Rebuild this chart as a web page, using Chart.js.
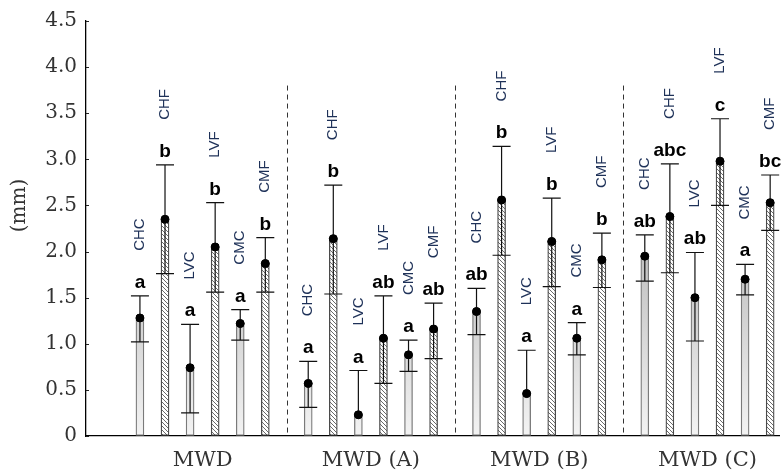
<!DOCTYPE html>
<html>
<head>
<meta charset="utf-8">
<script src="https://cdn.jsdelivr.net/npm/chart.js@4"></script>
<style>
  html, body { margin: 0; padding: 0; background: #fff; overflow: hidden; }
</style>
</head>
<body>
<canvas id="myChart" width="784" height="470"></canvas>
<script>
var groups = ["MWD", "MWD (A)", "MWD (B)", "MWD (C)"];
var yTicks = [0, 0.5, 1, 1.5, 2, 2.5, 3, 3.5, 4, 4.5];

var chcMean = [1.28, 0.57, 1.35, 1.95];
var chcLow = [1.02, 0.31, 1.10, 1.68];
var chcHigh = [1.52, 0.81, 1.60, 2.18];
var chcLetters = ["a", "a", "ab", "ab"];

var chfMean = [2.35, 2.14, 2.56, 2.38];
var chfLow = [1.76, 1.54, 1.96, 1.77];
var chfHigh = [2.94, 2.72, 3.14, 2.95];
var chfLetters = ["b", "b", "b", "abc"];

var lvcMean = [0.74, 0.23, 0.46, 1.50];
var lvcLow = [0.25, null, null, 1.03];
var lvcHigh = [1.21, 0.71, 0.93, 1.99];
var lvcLetters = ["a", "a", "a", "ab"];

var lvfMean = [2.05, 1.06, 2.11, 2.98];
var lvfLow = [1.56, 0.57, 1.62, 2.50];
var lvfHigh = [2.53, 1.52, 2.58, 3.44];
var lvfLetters = ["b", "ab", "b", "c"];

var cmcMean = [1.22, 0.88, 1.06, 1.70];
var cmcLow = [1.04, 0.70, 0.88, 1.53];
var cmcHigh = [1.37, 1.04, 1.23, 1.86];
var cmcLetters = ["a", "a", "a", "a"];

var cmfMean = [1.87, 1.16, 1.91, 2.53];
var cmfLow = [1.56, 0.84, 1.61, 2.23];
var cmfHigh = [2.15, 1.44, 2.20, 2.83];
var cmfLetters = ["b", "ab", "b", "bc"];

var series = [
  { name: "CHC", mean: chcMean, low: chcLow, high: chcHigh, letters: chcLetters, hatched: false },
  { name: "CHF", mean: chfMean, low: chfLow, high: chfHigh, letters: chfLetters, hatched: true },
  { name: "LVC", mean: lvcMean, low: lvcLow, high: lvcHigh, letters: lvcLetters, hatched: false },
  { name: "LVF", mean: lvfMean, low: lvfLow, high: lvfHigh, letters: lvfLetters, hatched: true },
  { name: "CMC", mean: cmcMean, low: cmcLow, high: cmcHigh, letters: cmcLetters, hatched: false },
  { name: "CMF", mean: cmfMean, low: cmfLow, high: cmfHigh, letters: cmfLetters, hatched: true }
];

var barStep = 0.149;
function xOf(i, j) {
  return i + (j - 2.5) * barStep;
}

// hatch pattern for the F bars
var pc = document.createElement("canvas");
pc.width = 4;
pc.height = 4;
var pctx = pc.getContext("2d");
pctx.fillStyle = "#fff";
pctx.fillRect(0, 0, 4, 4);
pctx.strokeStyle = "#5a5a5a";
pctx.lineWidth = 0.9;
pctx.beginPath();
pctx.moveTo(-1, -1); pctx.lineTo(5, 5);
pctx.moveTo(-1, 3); pctx.lineTo(1, 5);
pctx.moveTo(3, -1); pctx.lineTo(5, 1);
pctx.stroke();
var ctx = document.getElementById("myChart").getContext("2d");
var hatch = ctx.createPattern(pc, "repeat");

function grayFill(c) {
  var a = c.chart.chartArea;
  if (!a) return "#ddd";
  var g = c.chart.ctx.createLinearGradient(0, a.top, 0, a.bottom);
  g.addColorStop(0, "#808080");
  g.addColorStop(1, "#f3f3f3");
  return g;
}

var datasets = [];
series.forEach(function (s, j) {
  datasets.push({
    type: "bar",
    label: s.name,
    data: s.mean.map(function (v, i) { return { x: xOf(i, j), y: v }; }),
    backgroundColor: s.hatched ? hatch : grayFill,
    borderColor: s.hatched ? "#4a4a4a" : "#7a7a7a",
    borderWidth: 1.3,
    borderSkipped: false,
    barThickness: 8,
    grouped: false,
    order: 2
  });
});
series.forEach(function (s, j) {
  datasets.push({
    type: "line",
    label: s.name + " mean",
    data: s.mean.map(function (v, i) { return { x: xOf(i, j), y: v }; }),
    showLine: false,
    pointRadius: 4,
    pointBackgroundColor: "#000",
    pointBorderColor: "#000",
    order: 0
  });
});

var extras = {
  id: "extras",
  beforeDatasetsDraw: function (chart) {
    var c = chart.ctx, xs = chart.scales.x, ys = chart.scales.y;
    c.save();
    c.strokeStyle = "#333";
    c.lineWidth = 1;
    c.setLineDash([5, 4]);
    [0.5, 1.5, 2.5].forEach(function (v) {
      var px = Math.round(xs.getPixelForValue(v)) + 0.5;
      c.beginPath();
      c.moveTo(px, ys.getPixelForValue(3.8));
      c.lineTo(px, ys.getPixelForValue(0));
      c.stroke();
    });
    c.restore();
  },
  afterDatasetsDraw: function (chart) {
    var c = chart.ctx, xs = chart.scales.x, ys = chart.scales.y;
    c.save();
    // error bars
    c.strokeStyle = "#111";
    c.lineWidth = 1.2;
    series.forEach(function (s, j) {
      s.mean.forEach(function (m, i) {
        var px = xs.getPixelForValue(xOf(i, j));
        var top = ys.getPixelForValue(s.high[i]);
        var bot = ys.getPixelForValue(s.low[i] == null ? m : s.low[i]);
        c.beginPath();
        c.moveTo(px, top); c.lineTo(px, bot);
        c.moveTo(px - 9, top); c.lineTo(px + 9, top);
        if (s.low[i] != null) { c.moveTo(px - 9, bot); c.lineTo(px + 9, bot); }
        c.stroke();
      });
    });
    // dots again on top
    c.fillStyle = "#000";
    series.forEach(function (s, j) {
      s.mean.forEach(function (m, i) {
        c.beginPath();
        c.arc(xs.getPixelForValue(xOf(i, j)), ys.getPixelForValue(m), 4, 0, Math.PI * 2);
        c.fill();
      });
    });
    // significance letters and rotated names
    series.forEach(function (s, j) {
      s.mean.forEach(function (m, i) {
        var px = xs.getPixelForValue(xOf(i, j));
        var top = ys.getPixelForValue(s.high[i]);
        c.fillStyle = "#000";
        c.font = "bold 19px 'Liberation Sans', Arial, sans-serif";
        c.textAlign = "center";
        c.textBaseline = "alphabetic";
        c.fillText(s.letters[i], px, top - 8);
        c.save();
        c.translate(px, top - 45);
        c.rotate(-Math.PI / 2);
        c.fillStyle = "#1e3158";
        c.font = "15px 'Liberation Sans', Arial, sans-serif";
        c.textAlign = "left";
        c.textBaseline = "middle";
        c.fillText(s.name, 0, 0);
        c.restore();
      });
    });
    // inner y ticks
    c.strokeStyle = "#222";
    c.lineWidth = 1;
    yTicks.forEach(function (v) {
      var py = Math.round(ys.getPixelForValue(v)) + 0.5;
      c.beginPath();
      c.moveTo(xs.left, py); c.lineTo(xs.left + 3, py);
      c.stroke();
    });
    // y title
    c.save();
    c.translate(20, ys.getPixelForValue(2.5));
    c.rotate(-Math.PI / 2);
    c.fillStyle = "#333";
    c.font = "20px 'DejaVu Serif', serif";
    c.textAlign = "center";
    c.textBaseline = "middle";
    c.fillText("(mm)", 0, 0);
    c.restore();
    c.restore();
  }
};

var chart = new Chart(ctx, {
  type: "bar",
  data: { datasets: datasets },
  options: {
    responsive: false,
    animation: false,
    layout: { padding: { top: 20, right: 0, left: 0, bottom: 0 } },
    plugins: { legend: { display: false }, tooltip: { enabled: false } },
    scales: {
      x: {
        type: "linear",
        offset: false,
        min: -0.693,
        max: 3.425,
        afterBuildTicks: function (scale) {
          scale.ticks = groups.map(function (g, i) { return { value: i }; });
        },
        afterFit: function (scale) { scale.height = 34; },
        grid: { display: true, offset: false, drawOnChartArea: false, drawTicks: false },
        border: { display: true, color: "#000", width: 1.3 },
        ticks: {
          padding: 12,
          color: "#333",
          font: { family: "'DejaVu Serif', serif", size: 21 },
          callback: function (v) { return groups[v]; }
        }
      },
      y: {
        min: 0,
        max: 4.5,
        afterBuildTicks: function (scale) {
          scale.ticks = yTicks.map(function (v) { return { value: v }; });
        },
        afterFit: function (scale) { scale.width = 86; },
        grid: { display: true, drawOnChartArea: false, drawTicks: false },
        border: { display: true, color: "#000", width: 1.3 },
        ticks: {
          padding: 9,
          color: "#333",
          font: { family: "'DejaVu Serif', serif", size: 20 },
          callback: function (v) { return v === 0 ? "0" : v.toFixed(1); }
        }
      }
    }
  },
  plugins: [extras]
});
</script>
</body>
</html>
